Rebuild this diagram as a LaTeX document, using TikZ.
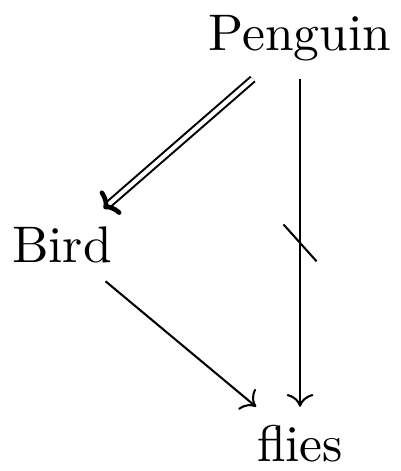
\documentclass[tikz,border=0pt]{standalone}
\usetikzlibrary{arrows.meta}

\begin{document}
\begin{tikzpicture}[>=To]
  \useasboundingbox (0,0) rectangle (2.737,-3.215);

  % Objects
  \node (penguin) at (2.048, -0.259) {Penguin};
  \node (bird)    at (0.423, -1.672) {Bird};
  \node (flies)   at (2.048, -3.027) {flies};

  % Arrows
  \draw[double, double distance=0.8pt, shorten >=1pt] (penguin) -- (bird)
    coordinate[pos=0.97] (implstart) coordinate[pos=1] (implend);
  \draw[line width=0.9pt, -{To[length=2.2pt, width=6pt]}] (implstart) -- (implend);
  \draw[->] (bird) -- (flies);
  \draw[->] (penguin) -- (flies) coordinate[midway] (notmid);
  \draw (notmid) +(-0.113, 0.126) -- +(0.113, -0.126);
\end{tikzpicture}
\end{document}
